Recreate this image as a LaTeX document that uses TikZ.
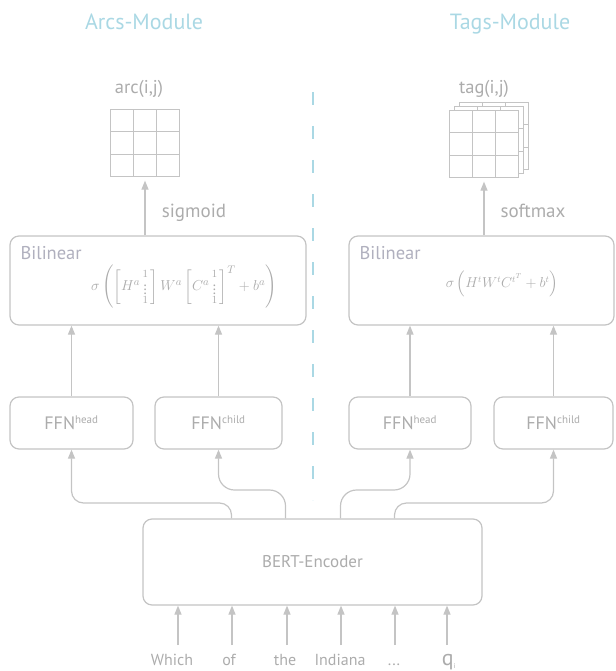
\documentclass[tikz,border=0pt]{standalone}
\usepackage{fontspec}
\setmainfont{PT Sans}
\usepackage{amsmath}
\usetikzlibrary{positioning}
\usetikzlibrary{calc}
\usetikzlibrary{arrows.meta}
\definecolor{linegray}{RGB}{196,196,196}
\definecolor{textgray}{RGB}{172,172,172}
\definecolor{namegray}{RGB}{176,176,190}
\definecolor{titleblue}{RGB}{170,216,228}
\tikzset{
  module/.style = {
    draw=linegray, rounded corners=9pt, line width=1.2pt, fill=white, text=textgray, inner sep=0pt}
}

\begin{document}
\begin{tikzpicture}[x=1pt,y=-1pt,
gridbox_style/.style={draw=linegray,line width=1.3pt,fill=white,inner sep=0pt,minimum width=68pt,minimum height=66pt},
arrow_style/.style={draw=linegray,line width=1.2pt,-{Triangle[length=9pt,width=7pt]}},
link_style/.style={draw=linegray,line width=1.2pt,rounded corners=12pt,-{Triangle[length=9pt,width=7pt]}},
label_style/.style={text=textgray,inner sep=0pt}]

\useasboundingbox (0,0) rectangle (615,671);

% module titles and split
\node[text=titleblue,font=\fontsize{22}{24}\selectfont,anchor=base] (arcs_title) at (144,30) {Arcs-Module};
\node[text=titleblue,font=\fontsize{22}{24}\selectfont,anchor=base] (tags_title) at (510,30) {Tags-Module};
\draw[titleblue,line width=2pt,dash pattern=on 13pt off 21pt] (313,92) -- (313,500);

% encoder and inputs
\node[module,minimum width=339pt,minimum height=86pt,font=\fontsize{17}{19}\selectfont] (bert) at (312.5,562) {BERT-Encoder};
\foreach \x/\w/\t in {172/w1/Which,229/w2/of,285/w3/the,340/w4/Indiana}{
 \node[label_style,font=\fontsize{16}{18}\selectfont,anchor=base] (\w) at (\x,665) {\t};
}
\node[label_style,font=\fontsize{16}{18}\selectfont,anchor=base] (w5) at (394,665) {.\kern1pt.\kern1pt.};
\node[label_style,font=\fontsize{22}{24}\selectfont,anchor=base] (w6) at (449,665) {q\textsubscript{\fontsize{7}{7}\selectfont i}};
\foreach \w/\x in {w1/178,w2/232,w3/287,w4/341,w5/395,w6/447}{
 \draw[arrow_style] (\x,645) -- (bert.south -| \x,0);
}

% feed forward layers
\node[module,minimum width=123pt,minimum height=52pt] (arc_head) at (71.5,423) {\fontsize{18}{20}\selectfont FFN\textsuperscript{\fontsize{11}{11}\selectfont head}};
\node[module,minimum width=127pt,minimum height=52pt] (arc_child) at (218.5,423) {\fontsize{18}{20}\selectfont FFN\textsuperscript{\fontsize{11}{11}\selectfont child}};
\node[module,minimum width=122pt,minimum height=52pt] (tag_head) at (410,423) {\fontsize{18}{20}\selectfont FFN\textsuperscript{\fontsize{11}{11}\selectfont head}};
\node[module,minimum width=119pt,minimum height=52pt] (tag_child) at (553.5,423) {\fontsize{18}{20}\selectfont FFN\textsuperscript{\fontsize{11}{11}\selectfont child}};

\draw[link_style] ([xshift=-81pt]bert.north) |- (arc_head.south |- 0,503) -- (arc_head.south);
\draw[link_style,rounded corners=16pt] ([xshift=-27pt]bert.north) |- (arc_child.south |- 0,490) -- (arc_child.south);
\draw[link_style,rounded corners=16pt] ([xshift=28pt]bert.north) |- (tag_head.south |- 0,490) -- (tag_head.south);
\draw[link_style] ([xshift=82pt]bert.north) |- (tag_child.south |- 0,503) -- (tag_child.south);

% bilinear scorers
\node[module,minimum width=296pt,minimum height=89pt] (arc_bil) at (158,280.5) {};
\node[module,minimum width=265pt,minimum height=89pt] (tag_bil) at (481.5,280.5) {};
\node[label_style,text=namegray,font=\fontsize{18.5}{20}\selectfont,anchor=north west] (arc_bil_name) at ([xshift=11pt,yshift=-11pt]arc_bil.north west) {Bilinear};
\node[label_style,text=namegray,font=\fontsize{18.5}{20}\selectfont,anchor=north west] (tag_bil_name) at ([xshift=11pt,yshift=-11pt]tag_bil.north west) {Bilinear};
\node[label_style,font=\fontsize{15}{17}\selectfont] (arc_formula) at (184,287) {$\sigma\left(\left[H^{a}\begin{smallmatrix}1\\ \vdots\\ 1\end{smallmatrix}\right]W^{a}\left[C^{a}\begin{smallmatrix}1\\ \vdots\\ 1\end{smallmatrix}\right]^{T}+b^{a}\right)$};
\node[label_style,font=\fontsize{13.5}{15}\selectfont] (tag_formula) at (502,284) {$\sigma\left(H^{t}W^{t}C^{t^{T}}+b^{t}\right)$};

\foreach \f/\b in {arc_head/arc_bil,arc_child/arc_bil,tag_head/tag_bil,tag_child/tag_bil}{
 \draw[arrow_style] (\f.north) -- (\f.north |- \b.south);
}

% score matrices
\node[gridbox_style] (arc) at (145,143) {};
\node[gridbox_style] (tag_back2) at (494,136) {};
\node[gridbox_style] (tag_back1) at (489,140) {};
\node[gridbox_style] (tag) at (484,144) {};
\foreach \g in {arc,tag_back2,tag_back1,tag}{
 \fill[white] (\g.north west) rectangle (\g.south east);
 \draw[linegray,line width=1.3pt] (\g.north west) rectangle (\g.south east);
 \foreach \i in {1,2}{
  \draw[linegray,line width=1.3pt] ($(\g.north west)!\i/3!(\g.north east)$) -- ($(\g.south west)!\i/3!(\g.south east)$);
  \draw[linegray,line width=1.3pt] ($(\g.north west)!\i/3!(\g.south west)$) -- ($(\g.north east)!\i/3!(\g.south east)$);
 }
}
\node[label_style,font=\fontsize{18.5}{20}\selectfont,anchor=base] (arc_name) at (139,94) {arc(i,j)};
\node[label_style,font=\fontsize{18.5}{20}\selectfont,anchor=base] (tag_name) at (484,94) {tag(i,j)};

\draw[arrow_style] (arc_bil.north -| arc.south) -- ([yshift=-4pt]arc.south);
\draw[arrow_style] (tag_bil.north -| tag.south) -- ([yshift=-4pt]tag.south);
\node[label_style,font=\fontsize{19}{21}\selectfont,anchor=base] (arc_act) at (194,217) {sigmoid};
\node[label_style,font=\fontsize{19}{21}\selectfont,anchor=base] (tag_act) at (533,217) {softmax};
\end{tikzpicture}
\end{document}
